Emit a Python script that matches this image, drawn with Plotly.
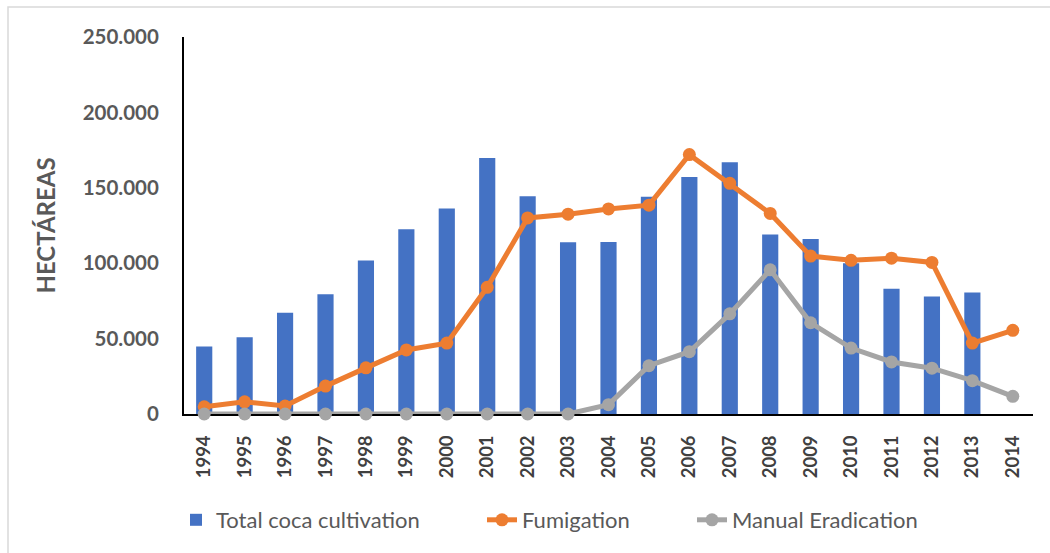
import plotly.graph_objects as go

years = [str(y) for y in range(1994, 2015)]
total_coca = [44700, 50900, 67200, 79400, 101800, 122500, 136200, 169800, 144450, 113850,
              114000, 144000, 157200, 167000, 119000, 116000, 100000, 83000, 78000, 80500, None]
fumigation = [4800, 8100, 5300, 18500, 30600, 42500, 47000, 84000, 130000, 132500,
              136000, 138500, 172000, 153000, 133000, 104700, 101900, 103300, 100500, 47000, 55500]
manual = [0, 0, 0, 0, 0, 0, 0, 0, 0, 0,
          6200, 32000, 41300, 66400, 95600, 60500, 43700, 34500, 30400, 22100, 11700]

FONT = "Lato"
L, R, T, B, W, H = 184, 17, 37, 139, 1050, 553
PW, PH = W - L - R, H - T - B


def px_x(px):
    return (px - L) / PW


def px_y(py):
    return (H - B - py) / PH


fig = go.Figure()
fig.add_trace(go.Bar(x=years, y=total_coca, name="Total coca cultivation", legend="legend",
                     marker=dict(color="#4472C4", line=dict(width=0))))
fig.add_trace(go.Scatter(x=years, y=fumigation, name="Fumigation", mode="lines+markers",
                         legend="legend2", cliponaxis=False,
                         line=dict(color="#ED7D31", width=5), marker=dict(size=13, color="#ED7D31")))
fig.add_trace(go.Scatter(x=years, y=manual, name="Manual Eradication", mode="lines+markers",
                         legend="legend3", cliponaxis=False,
                         line=dict(color="#A5A5A5", width=5), marker=dict(size=13, color="#A5A5A5")))

leg_common = dict(orientation="h", xanchor="left", yanchor="middle", y=px_y(520),
                  font=dict(size=22, color="#595959", family=FONT), bgcolor="rgba(0,0,0,0)")

fig.update_layout(
    width=W, height=H,
    margin=dict(l=L, r=R, t=T, b=B, autoexpand=False),
    paper_bgcolor="white", plot_bgcolor="white",
    separators=",.",
    bargap=0.6,
    font=dict(family=FONT, color="#595959"),
    showlegend=True,
    legend=dict(x=px_x(217 - 41), **leg_common),
    legend2=dict(x=px_x(523 - 41), **leg_common),
    legend3=dict(x=px_x(733 - 41), **leg_common),
    xaxis=dict(type="category", range=[-0.5, 20.5], automargin=False, layer="below traces",
               showline=True, linecolor="black", linewidth=2,
               tickangle=-90, ticks="", showgrid=False, ticklabelstandoff=12,
               tickfont=dict(size=18.5, color="#404040", family=FONT, weight="bold")),
    yaxis=dict(range=[0, 250000], tickvals=[0, 50000, 100000, 150000, 200000, 250000],
               automargin=False, layer="below traces",
               tickformat=",d", showline=True, linecolor="black", linewidth=2,
               showgrid=False, ticks="", ticklabelstandoff=19,
               tickfont=dict(size=20.5, color="#595959", family=FONT, weight="bold"),
               title=dict(text="<b>HECTÁREAS</b>", font=dict(size=24, color="#595959", family=FONT),
                          standoff=20)),
    shapes=[dict(type="rect", xref="paper", yref="paper",
                 x0=px_x(8), x1=px_x(1060), y0=px_y(560), y1=px_y(7),
                 line=dict(color="#D9D9D9", width=1.5), fillcolor="rgba(0,0,0,0)", layer="below")],
)

fig.write_html("out.html")
